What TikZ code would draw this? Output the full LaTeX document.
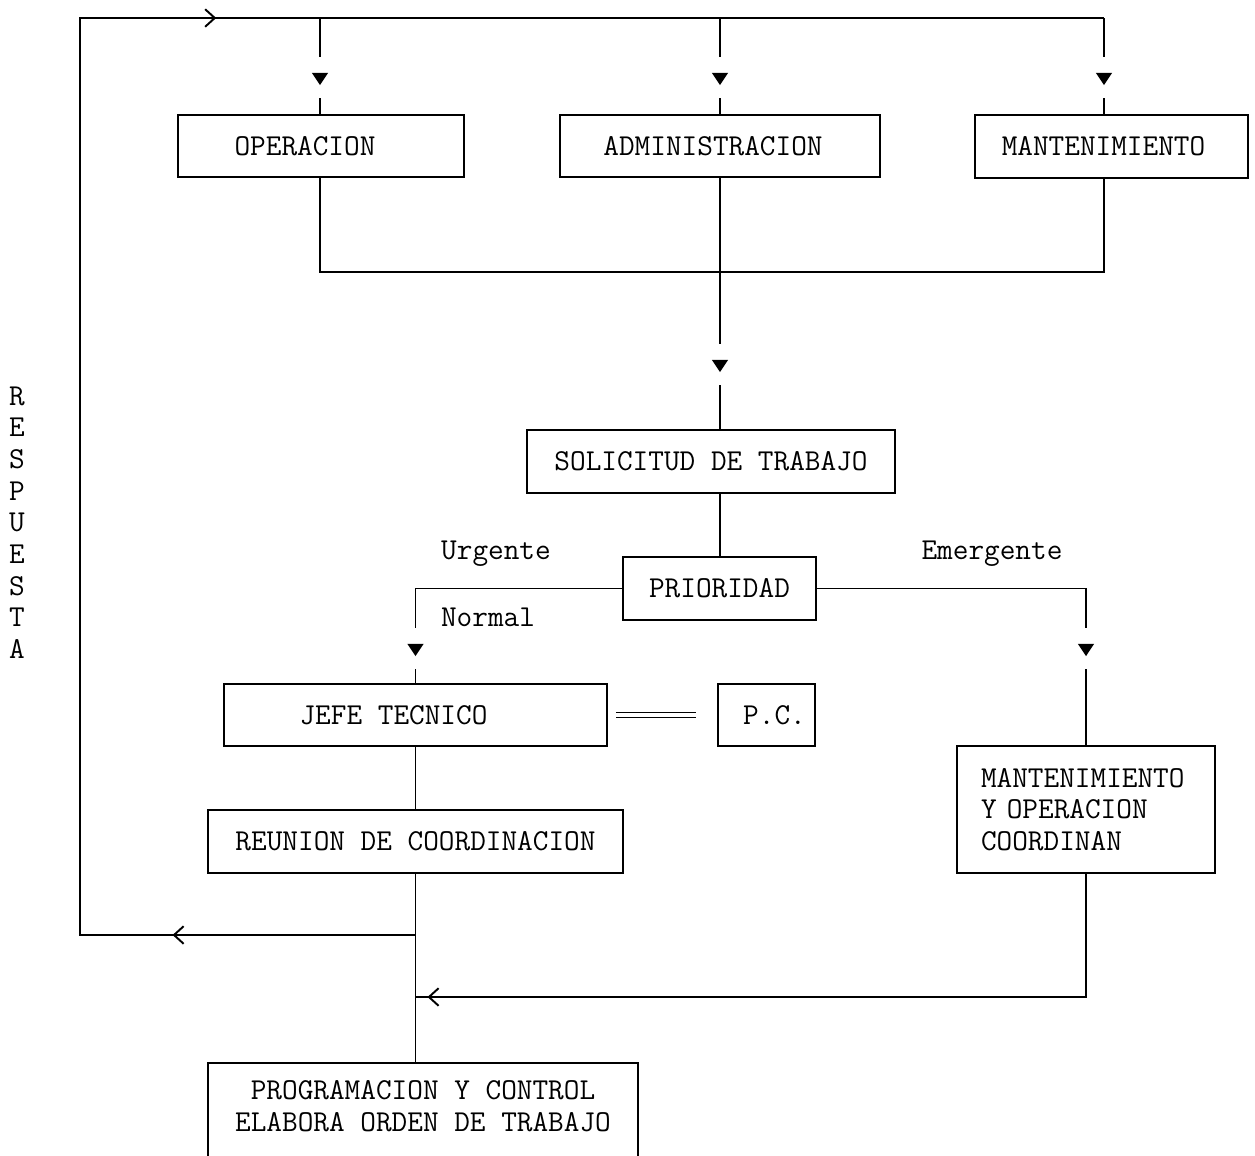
\documentclass[tikz,border=0pt]{standalone}
\usetikzlibrary{arrows.meta, decorations.markings}

\newcommand{\tyfont}{\fontsize{17.3}{18}\selectfont\ttfamily}
\newcommand{\downtip}{\arrow{Triangle[width=9pt, length=7pt]}}
\newcommand{\chevtip}{\arrow{Straight Barb[length=5.5pt, width=10pt, line width=1.1pt]}}

\begin{document}
\begin{tikzpicture}[
  x=0.02cm, y=-0.02cm,
  box/.style={rectangle, draw, line width=1pt, inner sep=2pt,
              minimum height=1.24cm, align=center, font=\tyfont},
  lbl/.style={inner sep=0pt, font=\tyfont},
  link/.style={line width=1pt},
  dropmark/.style={postaction={decorate, decoration={markings,
      mark=at position #1 with {\fill[white] (-0.56cm,-0.16cm) rectangle (0.26cm,0.16cm); \downtip}}}}
]
\useasboundingbox (0,0) rectangle (1255,1156);

% top row
\node[box, minimum width=5.72cm] (oper) at (321,146) {OPERACION\hspace*{0.64cm}};
\node[box, minimum width=6.4cm] (admin) at (720,146) {ADMINISTRACION\hspace*{0.28cm}};
\node[box, minimum width=5.46cm, minimum height=1.26cm] (mant) at (1111.5,146.5) {MANTENIMIENTO\hspace*{0.32cm}};

% middle
\node[box, minimum width=7.36cm, minimum height=1.26cm] (solic) at (711,461.5) {SOLICITUD DE TRABAJO};
\node[box, minimum width=3.86cm, minimum height=1.26cm] (prio) at (719.5,588.5) {PRIORIDAD};
\node[box, minimum width=7.66cm] (jefe) at (415.5,715) {JEFE TECNICO\hspace*{0.88cm}};
\node[box, minimum width=1.94cm] (pc) at (766.5,715) {\hspace*{0.32cm}P.C.};
\node[box, minimum width=8.3cm, minimum height=1.26cm] (reunion) at (415.5,841.5) {REUNION DE COORDINACION};
\node[box, minimum width=5.16cm, minimum height=2.54cm, text width=4.2cm, align=left] (manop) at (1086,809.5)
  {MANTENIMIENTO\\Y OPERACION\\COORDINAN};

% bottom box, cut at the lower edge
\node[lbl, minimum width=8.6cm, minimum height=1.72cm, align=center] (progr) at (423,1106)
  {PROGRAMACION Y CONTROL\\ELABORA ORDEN DE TRABAJO};
\draw[link] ([yshift=-0.14cm]progr.south west) -- (progr.north west) -- (progr.north east) -- ([yshift=-0.14cm]progr.south east);

% labels
\node[lbl] (urg) at (496,554) {Urgente};
\node[lbl] (norm) at (488,617) {Normal};
\node[lbl] (emer) at (992,554) {Emergente};
\node[lbl, align=center] (resp) at (17,522.5) {R\\E\\S\\P\\U\\E\\S\\T\\A};

% helper points
\coordinate (tl) at (80,18);
\coordinate (tr) at (1104,18);
\coordinate (bl) at (80,935);
\coordinate (jl) at (320,272);
\coordinate (jr) at (1104,272);

% feedback loop
\draw[link, postaction={decorate, decoration={markings,
      mark=at position 4.86cm with {\chevtip},
      mark=at position 27.78cm with {\chevtip}}}]
  (reunion.south |- bl) -- (bl) -- (tl) -- (tr);
\draw[link, dropmark=-0.58cm] (jl |- tl) -- (jl |- oper.north);
\draw[link, dropmark=-0.58cm] (admin.north |- tl) -- (admin.north);
\draw[link, dropmark=-0.58cm] (tr) -- (tr |- mant.north);

% collect requests
\draw[link] (jl |- oper.south) -- (jl) -- (jr) -- (jr |- mant.south);
\draw[link, dropmark=-1.14cm] (admin.south) -- (admin.south |- solic.north);
\draw[link] (admin.south |- solic.south) -- (admin.south |- prio.north);

% priority branches
\draw[link, dropmark=-0.54cm] (prio.west) -- (jefe.north |- prio.west) -- (jefe.north);
\draw[link, dropmark=-1.78cm] (prio.east) -- (manop.north |- prio.east) -- (manop.north);
\draw[link, double, double distance=1.8pt, shorten <=0.16cm, shorten >=0.42cm] (jefe.east) -- (pc.west);
\draw[link] (jefe.south) -- (reunion.north);
\draw[link] (reunion.south) -- (reunion.south |- progr.north);
\draw[link, postaction={decorate, decoration={markings, mark=at position -0.24cm with {\chevtip}}}]
  (manop.south) -- (manop.south |- 0,997) -- (reunion.south |- 0,997);
\end{tikzpicture}
\end{document}
